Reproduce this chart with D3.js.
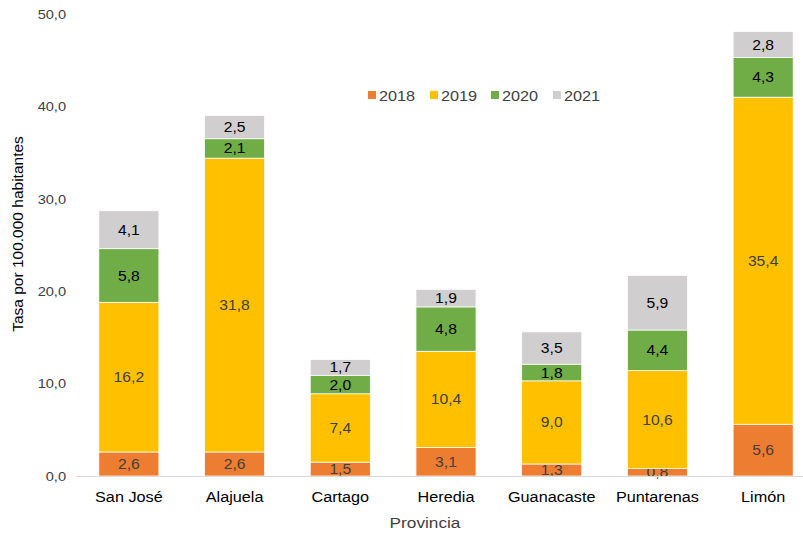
<!DOCTYPE html>
<html><head><meta charset="utf-8">
<script src="https://cdn.jsdelivr.net/npm/d3@7"></script>
<style>body{margin:0;background:#fff}svg{display:block;font-family:"Liberation Sans",Arial,sans-serif}</style>
</head><body><svg id="c" width="803" height="535"></svg>
<script>
const provincias = ["San José","Alajuela","Cartago","Heredia","Guanacaste","Puntarenas","Limón"];
const years = ["2018","2019","2020","2021"];
const v2018 = [2.6, 2.6, 1.5, 3.1, 1.3, 0.8, 5.6];
const v2019 = [16.2, 31.8, 7.4, 10.4, 9.0, 10.6, 35.4];
const v2020 = [5.8, 2.1, 2.0, 4.8, 1.8, 4.4, 4.3];
const v2021 = [4.1, 2.5, 1.7, 1.9, 3.5, 5.9, 2.8];
const yTicks = [0,10,20,30,40,50];
const colors = ["#ED7D31","#FFC000","#70AD47","#D0CECE"];
const labelColors = ["#404040","#404040","#000000","#000000"];

const series = [v2018,v2019,v2020,v2021];
const data = provincias.map((p,i)=>{const o={p}; years.forEach((y,j)=>o[y]=series[j][i]); return o;});
const stack = d3.stack().keys(years)(data);

const svg = d3.select("#c");
const x = d3.scaleBand().domain(provincias).range([76,816]).paddingInner(0.432).paddingOuter(0.216);
const y = d3.scaleLinear().domain([0,50]).range([476,14]);
const fmt = v => d3.format(".1f")(v).replace(".",",");
const sx = 1.12;

// bars
stack.forEach((s,j)=>{
  const g = svg.append("g");
  g.selectAll("rect").data(s).join("rect")
    .attr("x", d=>x(d.data.p)).attr("width", x.bandwidth())
    .attr("y", d=>y(d[1])).attr("height", d=>y(d[0])-y(d[1]))
    .attr("fill", colors[j]).attr("stroke","#fff").attr("stroke-width",0.75);
  g.selectAll("text").data(s).join("text")
    .attr("transform", d=>`translate(${x(d.data.p)+x.bandwidth()/2},${(y(d[0])+y(d[1]))/2}) scale(${sx},1)`)
    .attr("dy","0.36em").attr("text-anchor","middle")
    .attr("font-size",14).attr("fill",labelColors[j])
    .text(d=>fmt(d[1]-d[0]));
});

// x axis line
svg.append("line").attr("x1",76).attr("x2",803).attr("y1",y(0)+0.5).attr("y2",y(0)+0.5)
  .attr("stroke","#D9D9D9").attr("stroke-width",1);

// y tick labels
svg.append("g").selectAll("text").data(yTicks).join("text")
  .attr("transform",d=>`translate(66,${y(d)}) scale(1.08,1)`).attr("dy","0.36em").attr("text-anchor","end")
  .attr("font-size",13.5).attr("fill","#404040").text(d=>fmt(d));

// x labels
svg.append("g").selectAll("text").data(provincias).join("text")
  .attr("transform",d=>`translate(${x(d)+x.bandwidth()/2},497) scale(${sx},1)`).attr("dy","0.36em").attr("text-anchor","middle")
  .attr("font-size",14.5).attr("fill","#000").text(d=>d);

// axis titles
svg.append("text").attr("transform","translate(425,523) scale(1.15,1)").attr("dy","0.36em").attr("text-anchor","middle")
  .attr("font-size",15).attr("fill","#404040").text("Provincia");
svg.append("text").attr("transform","translate(17,234) rotate(-90)").attr("dy","0.36em")
  .attr("text-anchor","middle").attr("font-size",15.5).attr("fill","#000").text("Tasa por 100.000 habitantes");

// legend
const legX = [368,430,491,553];
const leg = svg.append("g");
years.forEach((yr,j)=>{
  leg.append("rect").attr("x",legX[j]).attr("y",91).attr("width",8).attr("height",8).attr("fill",colors[j]);
  leg.append("text").attr("transform",`translate(${legX[j]+11},96) scale(${sx},1)`).attr("dy","0.36em")
    .attr("font-size",14.5).attr("fill","#404040").text(yr);
});
</script></body></html>
